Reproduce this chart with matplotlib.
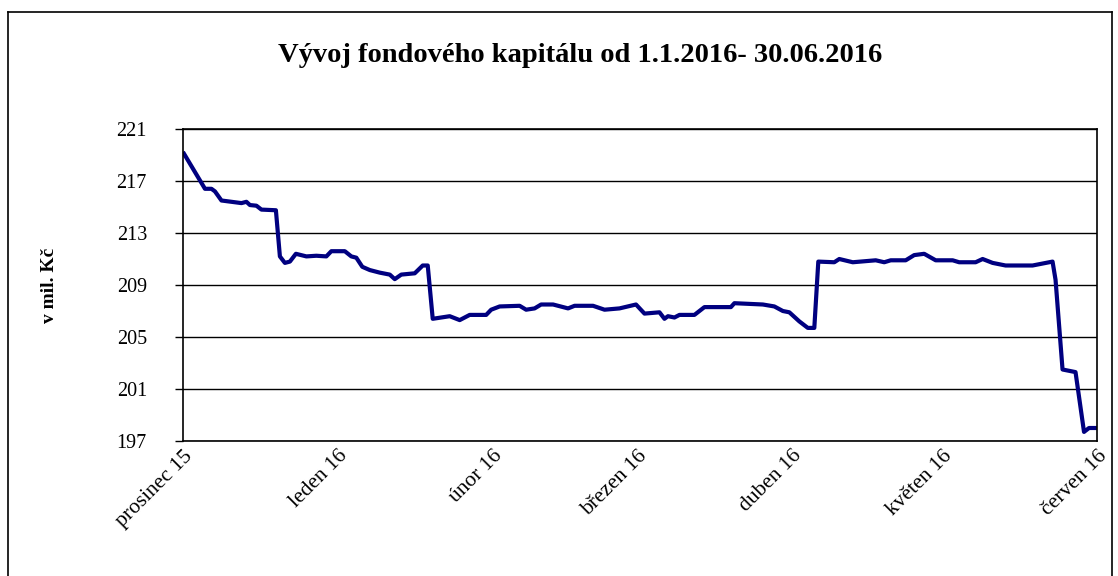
import matplotlib
matplotlib.use("Agg")
import matplotlib.pyplot as plt
from matplotlib.lines import Line2D
import pandas as pd

plt.rcParams['font.family'] = ['Liberation Serif', 'DejaVu Serif']

title = "Vývoj fondového kapitálu od 1.1.2016- 30.06.2016"
y_label = "v mil. Kč"
start_date = "2015-12-01"
month_ticks = ["2015-12-01", "2016-01-01", "2016-02-01", "2016-03-01",
               "2016-04-01", "2016-05-01", "2016-06-01"]
month_labels = ["prosinec 15", "leden 16", "únor 16", "březen 16",
                "duben 16", "květen 16", "červen 16"]
y_ticks = [197, 201, 205, 209, 213, 217, 221]

# day offsets from start_date, and fund capital (mil. Kč)
day_offsets = [0.2, 4.4, 5.7, 6.4, 7.7, 11.7, 12.7, 13.4, 14.7, 15.7,
               18.6, 19.4, 20.4, 21.4, 22.6, 24.7, 26.7, 28.7, 29.7, 32.4,
               33.7, 34.7, 35.9, 37.4, 39.4, 41.4, 42.4, 43.7, 46.4, 48.0,
               49.0, 50.0, 53.4, 55.4, 57.4, 60.7, 61.7, 63.4, 67.4, 68.7,
               70.4, 71.7, 74.1, 77.1, 78.4, 82.1, 84.4, 87.4, 90.7, 92.4,
               95.4, 96.4, 97.1, 98.4, 99.4, 102.4, 104.4, 109.7, 110.4, 116.1,
               118.4, 120.1, 121.4, 123.4, 125.1, 126.4, 127.2, 130.4, 131.4, 134.1,
               138.7, 140.4, 141.7, 144.7, 146.4, 148.4, 150.7, 154.1, 155.4, 158.7,
               160.1, 162.1, 164.7, 170.1, 174.1, 174.7, 176.1, 178.7, 180.4, 181.4,
               182.7]
capital = [219.1, 216.4, 216.4, 216.2, 215.5, 215.3, 215.4, 215.15, 215.1, 214.8,
           214.75, 211.2, 210.7, 210.8, 211.4, 211.2, 211.25, 211.2, 211.6, 211.6,
           211.2, 211.1, 210.4, 210.15, 209.95, 209.8, 209.45, 209.8, 209.9, 210.5,
           210.5, 206.4, 206.6, 206.3, 206.7, 206.7, 207.1, 207.35, 207.4, 207.1,
           207.2, 207.5, 207.5, 207.2, 207.4, 207.4, 207.1, 207.2, 207.5, 206.8,
           206.9, 206.4, 206.6, 206.5, 206.7, 206.7, 207.3, 207.3, 207.6, 207.5,
           207.35, 207.0, 206.9, 206.2, 205.7, 205.7, 210.8, 210.75, 211.0, 210.75,
           210.9, 210.75, 210.9, 210.9, 211.3, 211.4, 210.9, 210.9, 210.75, 210.75,
           211.0, 210.7, 210.5, 210.5, 210.8, 209.4, 202.5, 202.3, 197.7, 198.0,
           198.0]

t0 = pd.Timestamp(start_date)
dates = [t0 + pd.Timedelta(days=d) for d in day_offsets]
ticks = pd.to_datetime(month_ticks)

W, H = 1118, 576
fig = plt.figure(figsize=(W / 100, H / 100), dpi=100)
ax = fig.add_axes([183 / W, 1 - 441 / H, (1097 - 183) / W, (441 - 129) / H])

ax.plot(dates, capital, color='#000080', lw=3.0, solid_joinstyle='round')

ax.set_xlim(ticks[0], ticks[-1])
ax.set_ylim(197, 221)
ax.set_yticks(y_ticks)
ax.set_yticklabels([str(v) for v in y_ticks], fontsize=14.5)
ax.set_xticks(ticks)
ax.set_xticklabels(month_labels, fontsize=15.5, rotation=45, ha='right',
                   rotation_mode='anchor')
ax.tick_params(axis='x', length=0, pad=4)
ax.tick_params(axis='y', length=6, width=1, pad=20, direction='out')
ax.grid(axis='y', color='black', lw=1)
ax.set_axisbelow(True)
for s in ax.spines.values():
    s.set_color('black')
    s.set_linewidth(1.2)

fig.text(49 / W, 1 - 285 / H, y_label, rotation=90, ha='center', va='center',
         fontsize=14, fontweight='bold')
fig.text(580 / W, 1 - 55 / H, title, ha='center', va='center',
         fontsize=20.5, fontweight='bold')

# outer frame (bottom edge lies outside the image)
fx0, fx1, fy1 = 8 / W, 1112 / W, 1 - 12 / H
for xs, ys in [([fx0, fx0], [-0.1, fy1]), ([fx0, fx1], [fy1, fy1]), ([fx1, fx1], [fy1, -0.1])]:
    fig.add_artist(Line2D(xs, ys, transform=fig.transFigure, color='black', lw=1.2))

fig.savefig("out.png", dpi=100)
